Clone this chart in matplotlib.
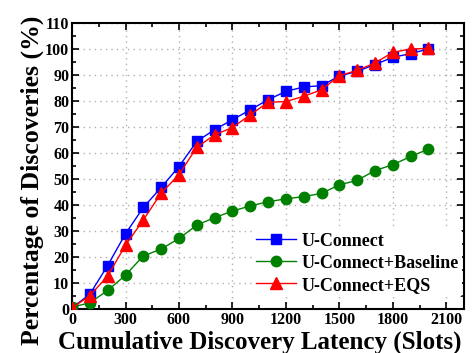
import numpy as np
import matplotlib.pyplot as plt
from matplotlib.ticker import MultipleLocator

latency = [0, 100, 200, 300, 400, 500, 600, 700, 800, 900, 1000,
           1100, 1200, 1300, 1400, 1500, 1600, 1700, 1800, 1900, 2000]

u_connect = [0.5, 5.8, 16.8, 29.0, 39.1, 46.8, 54.8, 64.5, 69.0, 72.8, 76.6,
             80.5, 83.7, 85.4, 85.9, 89.6, 91.4, 94.0, 96.8, 98.2, 100.0]
u_baseline = [0.8, 2.5, 7.2, 13.1, 20.5, 23.1, 27.2, 32.3, 35.2, 37.7, 39.7,
              41.3, 42.4, 43.3, 44.5, 47.8, 49.5, 53.3, 55.5, 58.7, 61.5]
u_eqs = [0.5, 5.2, 12.8, 24.6, 34.3, 44.6, 51.7, 62.2, 67.0, 69.8, 74.7,
         79.5, 79.8, 81.8, 84.3, 89.7, 91.8, 94.6, 98.7, 100.0, 100.2]

plt.rcParams["font.family"] = ["Liberation Serif", "DejaVu Serif"]
plt.rcParams["font.weight"] = "bold"

fig, ax = plt.subplots(figsize=(4.74, 3.53), dpi=100)

ax.plot(latency, u_connect, color="blue", marker="s", markersize=7,
        linewidth=1, label="U-Connect", zorder=3)
ax.plot(latency, u_baseline, color="green", marker="o", markersize=7.5,
        linewidth=1, label="U-Connect+Baseline", zorder=3)
ax.plot(latency, u_eqs, color="red", marker="^", markersize=8.5,
        linewidth=1, label="U-Connect+EQS", zorder=3)

ax.set_xlim(0, 2200)
ax.set_ylim(0, 110)
ax.xaxis.set_major_locator(MultipleLocator(300))
ax.xaxis.set_minor_locator(MultipleLocator(150))
ax.yaxis.set_major_locator(MultipleLocator(10))
ax.yaxis.set_minor_locator(MultipleLocator(5))
ax.tick_params(which="both", direction="in", top=True, right=True, width=1.2)
ax.tick_params(which="major", length=5, labelsize=11.5, pad=2)
ax.tick_params(which="minor", length=3)
for lbl in ax.get_xticklabels() + ax.get_yticklabels():
    lbl.set_fontweight("bold")
for sp in ax.spines.values():
    sp.set_linewidth(1.5)

ax.grid(True, which="major", linestyle=(0, (1, 3)), color="#b0b0b0", linewidth=1)

ax.set_xlabel("Cumulative Discovery Latency (Slots)", fontsize=18,
              fontweight="bold")
ax.set_ylabel("Percentage of Discoveries (%)", fontsize=18.5,
              fontweight="bold")
ax.xaxis.set_label_coords(0.48, -0.075)
ax.yaxis.set_label_coords(-0.072, 0.45)

leg = ax.legend(loc="lower right", bbox_to_anchor=(1.0, 0.035), frameon=True,
                fontsize=13, handlelength=2.2, borderpad=0.2, labelspacing=0.28,
                handletextpad=0.3, borderaxespad=0.1)
leg.get_frame().set_edgecolor("none")
leg.get_frame().set_facecolor("white")
leg.get_frame().set_alpha(1)
for t in leg.get_texts():
    t.set_fontweight("bold")

fig.subplots_adjust(left=0.152, right=0.979, top=0.935, bottom=0.124)
fig.savefig("out.png", dpi=100)
